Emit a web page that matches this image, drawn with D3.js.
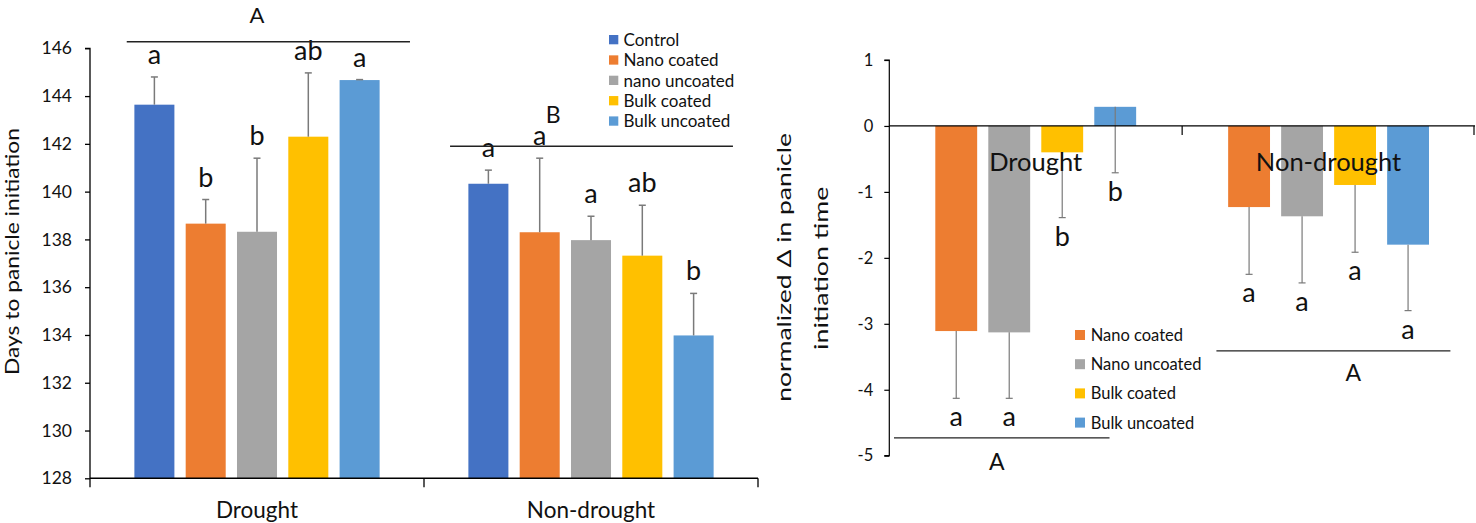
<!DOCTYPE html>
<html>
<head>
<meta charset="utf-8">
<script src="https://cdn.jsdelivr.net/npm/d3@7/dist/d3.min.js"></script>
<style>
  html, body { margin: 0; padding: 0; background: #fff; }
  svg { display: block; }
  text { font-family: Lato, "Noto Sans", sans-serif; fill: #111; }
</style>
</head>
<body>
<svg id="chart" width="1476" height="523"></svg>
<script>
// ---------- DATA ----------
const categories = ["Drought", "Non-drought"];

// Left panel: days to panicle initiation
const leftSeries = ["Control", "Nano coated", "nano uncoated", "Bulk coated", "Bulk uncoated"];
const daysDrought = [143.64, 138.66, 138.32, 142.30, 144.67];
const daysDroughtErr = [1.16, 1.01, 3.08, 2.67, 0.02];
const daysNonDrought = [140.33, 138.30, 137.97, 137.32, 133.98];
const daysNonDroughtErr = [0.57, 3.10, 1.00, 2.11, 1.76];
const lettersLeftDrought = ["a", "b", "b", "ab", "a"];
const lettersLeftNonDrought = ["a", "a", "a", "ab", "b"];
const leftTicks = [128, 130, 132, 134, 136, 138, 140, 142, 144, 146];

// Right panel: normalized delta in panicle initiation time
const rightSeries = ["Nano coated", "Nano uncoated", "Bulk coated", "Bulk uncoated"];
const deltaDrought = [-3.11, -3.13, -0.40, 0.29];
const deltaDroughtErr = [1.02, 1.00, 0.99, 1.00];
const deltaNonDrought = [-1.23, -1.37, -0.895, -1.80];
const deltaNonDroughtErr = [1.02, 1.01, 1.02, 1.00];
const lettersRightDrought = ["a", "a", "b", "b"];
const lettersRightNonDrought = ["a", "a", "a", "a"];
const rightTicks = [-5, -4, -3, -2, -1, 0, 1];

const colorMap = {
  "Control": "#4472C4",
  "Nano coated": "#ED7D31",
  "nano uncoated": "#A5A5A5",
  "Nano uncoated": "#A5A5A5",
  "Bulk coated": "#FFC000",
  "Bulk uncoated": "#5B9BD5"
};

// ---------- SETUP ----------
const svg = d3.select("#chart");
const errColor = "#7a7a7a";

// ===== LEFT PANEL =====
const L = svg.append("g");
const xL0 = d3.scaleBand().domain(categories).range([90, 758]).padding(0);
const xL1 = d3.scaleBand().domain(leftSeries).range([0, xL0.bandwidth()]).paddingInner(0.22).paddingOuter(0.865);
const yL = d3.scaleLinear().domain([128, 146]).range([478.3, 48.3]);

const leftData = [
  { cat: "Drought", vals: daysDrought, errs: daysDroughtErr, letters: lettersLeftDrought },
  { cat: "Non-drought", vals: daysNonDrought, errs: daysNonDroughtErr, letters: lettersLeftNonDrought }
];

leftData.forEach(g => {
  const grp = L.append("g").attr("transform", `translate(${xL0(g.cat)},0)`);
  const rows = leftSeries.map((s, i) => ({ s, v: g.vals[i], e: g.errs[i], l: g.letters[i] }));
  grp.selectAll("rect").data(rows).join("rect")
    .attr("x", d => xL1(d.s)).attr("width", xL1.bandwidth())
    .attr("y", d => yL(d.v)).attr("height", d => yL(128) - yL(d.v))
    .attr("fill", d => colorMap[d.s]);
  grp.selectAll("line.err").data(rows).join("line").attr("class", "err")
    .attr("x1", d => xL1(d.s) + xL1.bandwidth() / 2).attr("x2", d => xL1(d.s) + xL1.bandwidth() / 2)
    .attr("y1", d => yL(d.v)).attr("y2", d => yL(d.v + d.e))
    .attr("stroke", errColor).attr("stroke-width", 1.5);
  grp.selectAll("line.cap").data(rows).join("line").attr("class", "cap")
    .attr("x1", d => xL1(d.s) + xL1.bandwidth() / 2 - 3.5).attr("x2", d => xL1(d.s) + xL1.bandwidth() / 2 + 3.5)
    .attr("y1", d => yL(d.v + d.e)).attr("y2", d => yL(d.v + d.e))
    .attr("stroke", errColor).attr("stroke-width", 1.5);
  grp.selectAll("text.let").data(rows).join("text").attr("class", "let")
    .attr("x", d => xL1(d.s) + xL1.bandwidth() / 2)
    .attr("y", d => yL(d.v + d.e) - 13)
    .attr("text-anchor", "middle").style("font-size", "27px")
    .text(d => d.l);
});

// left y axis
const yAxisL = d3.axisLeft(yL).tickValues(leftTicks).tickSize(5).tickPadding(4).tickFormat(d3.format("d"));
const gyL = L.append("g").attr("transform", "translate(90,0)").call(yAxisL);
gyL.select(".domain").attr("stroke", "#000").attr("stroke-width", 1.3).attr("d", `M-5,${yL(146)}H0V${yL(128)}`);
gyL.selectAll(".tick line").attr("stroke", "#000").attr("stroke-width", 1.3);
gyL.selectAll(".tick text").style("font-size", "17.5px").style("font-family", "Lato").attr("fill", "#111").attr("x", -18);

// left x axis
const xAxisLine = L.append("g");
xAxisLine.append("line").attr("x1", 90).attr("x2", 758).attr("y1", yL(128)).attr("y2", yL(128))
  .attr("stroke", "#000").attr("stroke-width", 1.5);
const boundsL = [xL0("Drought"), xL0("Non-drought"), xL0("Non-drought") + xL0.bandwidth()];
xAxisLine.selectAll("line.bt").data(boundsL).join("line").attr("class", "bt")
  .attr("x1", d => d).attr("x2", d => d).attr("y1", yL(128)).attr("y2", yL(128) + 9)
  .attr("stroke", "#000").attr("stroke-width", 1.3);
L.selectAll("text.cat").data(categories).join("text").attr("class", "cat")
  .attr("x", d => xL0(d) + xL0.bandwidth() / 2).attr("y", 518)
  .attr("text-anchor", "middle").style("font-size", "22.5px").text(d => d);

// left y title
L.append("text")
  .attr("transform", `translate(19,251.5) rotate(-90)`)
  .attr("text-anchor", "middle").style("font-size", "19px")
  .attr("textLength", 247).attr("lengthAdjust", "spacingAndGlyphs")
  .text("Days to panicle initiation");

// left significance annotations
const bwL = xL0.bandwidth();
L.append("line").attr("x1", xL0("Drought") + 0.11 * bwL).attr("x2", xL0("Drought") + 0.958 * bwL)
  .attr("y1", yL(146.27)).attr("y2", yL(146.27)).attr("stroke", "#222").attr("stroke-width", 1.5);
L.append("text").attr("x", xL0("Drought") + bwL / 2).attr("y", 23)
  .attr("text-anchor", "middle").style("font-size", "22px").text("A");
L.append("line").attr("x1", xL0("Non-drought") + 0.078 * bwL).attr("x2", xL0("Non-drought") + 0.925 * bwL)
  .attr("y1", yL(141.9)).attr("y2", yL(141.9)).attr("stroke", "#222").attr("stroke-width", 1.5);
L.append("text").attr("x", xL0("Non-drought") + 0.387 * bwL).attr("y", 122.5)
  .attr("text-anchor", "middle").style("font-size", "23px").text("B");

// left legend
const legL = L.append("g").attr("transform", "translate(609,39.7)");
legL.selectAll("rect").data(leftSeries).join("rect")
  .attr("x", 0).attr("y", (d, i) => i * 20.35 - 4.7).attr("width", 9.3).attr("height", 9.3)
  .attr("fill", d => colorMap[d]);
legL.selectAll("text").data(leftSeries).join("text")
  .attr("x", 14.5).attr("y", (d, i) => i * 20.35).attr("dy", "0.36em")
  .style("font-size", "17px").text(d => d);

// ===== RIGHT PANEL =====
const R = svg.append("g");
const xR0 = d3.scaleBand().domain(categories).range([889.3, 1475]).padding(0);
const xR1 = d3.scaleBand().domain(rightSeries).range([0, xR0.bandwidth()]).paddingInner(0.21).paddingOuter(0.868);
const yR = d3.scaleLinear().domain([-5, 1]).range([455.7, 60]);

const rightData = [
  { cat: "Drought", vals: deltaDrought, errs: deltaDroughtErr, letters: lettersRightDrought },
  { cat: "Non-drought", vals: deltaNonDrought, errs: deltaNonDroughtErr, letters: lettersRightNonDrought }
];

rightData.forEach(g => {
  const grp = R.append("g").attr("transform", `translate(${xR0(g.cat)},0)`);
  const rows = rightSeries.map((s, i) => ({ s, v: g.vals[i], e: g.errs[i], l: g.letters[i] }));
  grp.selectAll("rect").data(rows).join("rect")
    .attr("x", d => xR1(d.s)).attr("width", xR1.bandwidth())
    .attr("y", d => Math.min(yR(d.v), yR(0))).attr("height", d => Math.abs(yR(d.v) - yR(0)))
    .attr("fill", d => colorMap[d.s]);
  grp.selectAll("line.err").data(rows).join("line").attr("class", "err")
    .attr("x1", d => xR1(d.s) + xR1.bandwidth() / 2).attr("x2", d => xR1(d.s) + xR1.bandwidth() / 2)
    .attr("y1", d => yR(d.v)).attr("y2", d => yR(d.v - d.e))
    .attr("stroke", errColor).attr("stroke-width", 1.2);
  grp.selectAll("line.cap").data(rows).join("line").attr("class", "cap")
    .attr("x1", d => xR1(d.s) + xR1.bandwidth() / 2 - 3.5).attr("x2", d => xR1(d.s) + xR1.bandwidth() / 2 + 3.5)
    .attr("y1", d => yR(d.v - d.e)).attr("y2", d => yR(d.v - d.e))
    .attr("stroke", errColor).attr("stroke-width", 1.2);
  grp.selectAll("text.let").data(rows).join("text").attr("class", "let")
    .attr("x", d => xR1(d.s) + xR1.bandwidth() / 2)
    .attr("y", d => yR(d.v - d.e) + 28)
    .attr("text-anchor", "middle").style("font-size", "27px")
    .text(d => d.l);
});

// right y axis
const yAxisR = d3.axisLeft(yR).tickValues(rightTicks).tickSize(5).tickPadding(4).tickFormat(d3.format("d"));
const gyR = R.append("g").attr("transform", "translate(889.3,0)").call(yAxisR);
gyR.select(".domain").attr("stroke", "#000").attr("stroke-width", 1.2).attr("d", `M-5,${yR(1)}H0V${yR(-5)}H-5`);
gyR.selectAll(".tick line").attr("stroke", "#000").attr("stroke-width", 1.2);
gyR.selectAll(".tick text").style("font-size", "16.5px").style("font-family", "Lato").attr("fill", "#111")
  .text(d => d < 0 ? "-" + Math.abs(d) : d).attr("x", -16);

// zero line + group ticks
R.append("line").attr("x1", 889.3).attr("x2", 1475).attr("y1", yR(0)).attr("y2", yR(0))
  .attr("stroke", "#000").attr("stroke-width", 1.3);
const boundsR = [xR0("Non-drought"), xR0("Non-drought") + xR0.bandwidth() - 1];
R.selectAll("line.bt").data(boundsR).join("line").attr("class", "bt")
  .attr("x1", d => d).attr("x2", d => d).attr("y1", yR(0)).attr("y2", yR(0) + 9)
  .attr("stroke", "#000").attr("stroke-width", 1.2);
R.selectAll("text.cat").data(categories).join("text").attr("class", "cat")
  .attr("x", d => xR0(d) + xR0.bandwidth() / 2).attr("y", 170.7)
  .attr("text-anchor", "middle").style("font-size", "25.5px").text(d => d);

// right y title
R.append("text")
  .attr("transform", `translate(791.4,267.4) rotate(-90)`)
  .attr("text-anchor", "middle").style("font-size", "20px")
  .attr("textLength", 268.7).attr("lengthAdjust", "spacingAndGlyphs")
  .text("normalized \u0394 in panicle");
R.append("text")
  .attr("transform", `translate(828,268.3) rotate(-90)`)
  .attr("text-anchor", "middle").style("font-size", "20px")
  .attr("textLength", 163.3).attr("lengthAdjust", "spacingAndGlyphs")
  .text("initiation time");

// right significance annotations
const bwR = xR0.bandwidth();
R.append("line").attr("x1", xR0("Drought") + 0.016 * bwR).attr("x2", xR0("Drought") + 0.752 * bwR)
  .attr("y1", yR(-4.73)).attr("y2", yR(-4.73)).attr("stroke", "#222").attr("stroke-width", 1.3);
R.append("text").attr("x", xR0("Drought") + 0.367 * bwR).attr("y", 470)
  .attr("text-anchor", "middle").style("font-size", "23px").text("A");
R.append("line").attr("x1", xR0("Non-drought") + 0.117 * bwR).attr("x2", xR0("Non-drought") + 0.916 * bwR)
  .attr("y1", yR(-3.41)).attr("y2", yR(-3.41)).attr("stroke", "#222").attr("stroke-width", 1.3);
R.append("text").attr("x", xR0("Non-drought") + 0.584 * bwR).attr("y", 380.7)
  .attr("text-anchor", "middle").style("font-size", "23px").text("A");

// right legend
const legR = R.append("g").attr("transform", "translate(1075,335)");
legR.selectAll("rect").data(rightSeries).join("rect")
  .attr("x", 0).attr("y", (d, i) => i * 29.2 - 5).attr("width", 10).attr("height", 10)
  .attr("fill", d => colorMap[d]);
legR.selectAll("text").data(rightSeries).join("text")
  .attr("x", 15.7).attr("y", (d, i) => i * 29.2).attr("dy", "0.36em")
  .style("font-size", "16.5px").text(d => d);
</script>
</body>
</html>
